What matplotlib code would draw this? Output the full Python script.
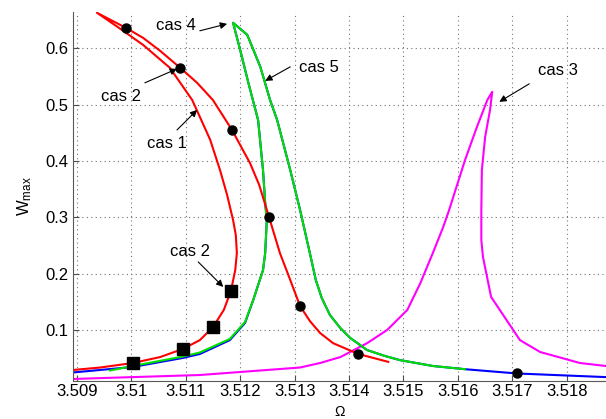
import numpy as np
import matplotlib
matplotlib.use('Agg')
import matplotlib.pyplot as plt

plt.rcParams['font.family'] = ['Liberation Sans', 'DejaVu Sans']

# cas 1 (red): lower branch up to the tip, then back down the upper branch
red_x = [3.50893, 3.50943, 3.51003, 3.51053, 3.51095, 3.51126, 3.51150, 3.51170,
         3.51183, 3.51191, 3.51194, 3.51192, 3.51187, 3.51176, 3.51163, 3.51145,
         3.51112, 3.51071, 3.51022, 3.50980, 3.50937,
         3.50990, 3.51022, 3.51053, 3.51090, 3.51121, 3.51150, 3.51185, 3.51218,
         3.51235, 3.51249, 3.51273, 3.51292, 3.51310, 3.51328, 3.51347, 3.51371,
         3.51417, 3.51472]
red_y = [0.0296, 0.034, 0.042, 0.0525, 0.067, 0.0825, 0.1055, 0.136,
         0.1695, 0.2065, 0.237, 0.269, 0.2955, 0.34, 0.384, 0.4375,
         0.508, 0.565, 0.6055, 0.6342, 0.6626,
         0.636, 0.618, 0.5952, 0.565, 0.5385, 0.508, 0.455, 0.3965,
         0.3576, 0.3135, 0.237, 0.1892, 0.143, 0.1165, 0.095, 0.077,
         0.058, 0.044]

# cas 4 (blue)
blue_x = [3.50893, 3.51003, 3.51095, 3.51126, 3.51181, 3.51209, 3.51224, 3.51242,
          3.51246, 3.51249, 3.51246, 3.51242, 3.51233, 3.51215, 3.51200, 3.51187,
          3.51213, 3.51237, 3.51255, 3.51268, 3.51292, 3.51310, 3.51328, 3.51339,
          3.51350, 3.51365, 3.51384, 3.51402, 3.51433, 3.51466, 3.51494, 3.51554,
          3.51613, 3.51709, 3.51872]
blue_y = [0.0252, 0.035, 0.051, 0.058, 0.0825, 0.113, 0.1535, 0.2065,
          0.237, 0.2955, 0.3255, 0.384, 0.4725, 0.539, 0.597, 0.6449,
          0.6236, 0.567, 0.508, 0.4725, 0.384, 0.3135, 0.237, 0.189,
          0.157, 0.127, 0.104, 0.0865, 0.065, 0.0544, 0.047, 0.0367,
          0.031, 0.0234, 0.017]

# cas 5 (green)
green_x = [3.50961, 3.51003, 3.51095, 3.51126, 3.51181, 3.51209, 3.51224, 3.51242,
           3.51246, 3.51249, 3.51246, 3.51242, 3.51233, 3.51215, 3.51200, 3.51187,
           3.51213, 3.51237, 3.51255, 3.51268, 3.51292, 3.51310, 3.51328, 3.51339,
           3.51350, 3.51365, 3.51384, 3.51402, 3.51433, 3.51466, 3.51494, 3.51554,
           3.51613]
green_y = [0.0287, 0.0367, 0.0535, 0.0606, 0.0846, 0.1147, 0.1535, 0.2065,
           0.237, 0.2955, 0.3255, 0.384, 0.4725, 0.539, 0.597, 0.6449,
           0.6236, 0.567, 0.508, 0.4725, 0.384, 0.3135, 0.237, 0.189,
           0.157, 0.127, 0.104, 0.0865, 0.065, 0.0544, 0.047, 0.0367,
           0.031]

# cas 3 (magenta)
mag_x = [3.50893, 3.51126, 3.51310, 3.51347, 3.51384, 3.51433, 3.51470, 3.51507,
         3.51531, 3.51554, 3.51573, 3.51584, 3.51613, 3.51635, 3.51654, 3.51663,
         3.51659, 3.51650, 3.51644, 3.51643, 3.51643, 3.51646, 3.51661, 3.51714,
         3.51751, 3.51824, 3.51872]
mag_y = [0.0137, 0.0207, 0.034, 0.042, 0.0525, 0.077, 0.1005, 0.136,
         0.1835, 0.237, 0.283, 0.3135, 0.4015, 0.4605, 0.508, 0.5225,
         0.4905, 0.4425, 0.384, 0.3135, 0.260, 0.230, 0.159, 0.0825,
         0.0615, 0.042, 0.0367]

dot_x = [3.50990, 3.51090, 3.51185, 3.51253, 3.51310, 3.51417, 3.51709]
dot_y = [0.636, 0.565, 0.455, 0.301, 0.143, 0.058, 0.0234]
sq_x = [3.51003, 3.51095, 3.51150, 3.51183]
sq_y = [0.042, 0.067, 0.1055, 0.1695]

# label text, text position, arrow tail, arrow head
labels = ['cas 4', 'cas 5', 'cas 3', 'cas 2', 'cas 1', 'cas 2']
label_pos = [(3.51082, 0.6395), (3.51344, 0.565), (3.51784, 0.5598),
             (3.50981, 0.5137), (3.51066, 0.4303), (3.51107, 0.2388)]
arrow_tail = [(3.51126, 0.6307), (3.51292, 0.5668), (3.51731, 0.5367),
              (3.51025, 0.5385), (3.51084, 0.455), (3.51123, 0.2211)]
arrow_head = [(3.51176, 0.643), (3.51246, 0.542), (3.51676, 0.5048),
              (3.51084, 0.5633), (3.51121, 0.4905), (3.51169, 0.1768)]

xticks = [3.509, 3.510, 3.511, 3.512, 3.513, 3.514, 3.515, 3.516, 3.517, 3.518]
xtick_labels = ['3.509', '3.51', '3.511', '3.512', '3.513', '3.514', '3.515', '3.516', '3.517', '3.518']
yticks = [0.1, 0.2, 0.3, 0.4, 0.5, 0.6]
ytick_labels = ['0.1', '0.2', '0.3', '0.4', '0.5', '0.6']

fig = plt.figure(figsize=(6.06, 4.19), dpi=100)
ax = fig.add_axes([73 / 606, 1 - 381 / 419, 1 - 73 / 606, (381 - 12) / 419])

ax.plot(mag_x, mag_y, color='#ff00ff', lw=1.5)
ax.plot(blue_x, blue_y, color='#0000ff', lw=1.5)
ax.plot(green_x, green_y, color='#00e000', lw=1.5)
ax.plot(red_x, red_y, color='#ff0000', lw=1.5)
ax.plot(dot_x, dot_y, 'o', color='black', ms=6.5, zorder=5)
ax.plot(sq_x, sq_y, 's', color='black', ms=8.5, zorder=5)

for lab, pos, tail, head in zip(labels, label_pos, arrow_tail, arrow_head):
    ax.text(pos[0], pos[1], lab, ha='center', va='center', fontsize=12)
    ax.annotate('', xy=head, xytext=tail,
                arrowprops=dict(arrowstyle='-|>', color='black', lw=0.8,
                                mutation_scale=10, shrinkA=0, shrinkB=0))

ax.set_xlim(3.50893, 3.51872)
ax.set_ylim(0.0101, 0.664)
ax.set_xticks(xticks)
ax.set_xticklabels(xtick_labels)
ax.set_yticks(yticks)
ax.set_yticklabels(ytick_labels)
ax.tick_params(direction='in', length=4, labelsize=12, color='0.3')
ax.tick_params(axis='x', pad=2.5)
ax.grid(True, color='0.45', linestyle=(0, (1, 3)), lw=0.8)
ax.set_axisbelow(True)
for s in ['top', 'right']:
    ax.spines[s].set_visible(False)
for s in ['left', 'bottom']:
    ax.spines[s].set_color('0.35')

# x label sits right at the bottom edge, as in the original
fig.text((73 + 606) / 2 / 606, 0.0, 'Ω', ha='center', va='bottom', fontsize=10)
ax.set_ylabel('$\\mathregular{W_{max}}$', fontsize=12, labelpad=8)

fig.savefig('out.png', dpi=100)
